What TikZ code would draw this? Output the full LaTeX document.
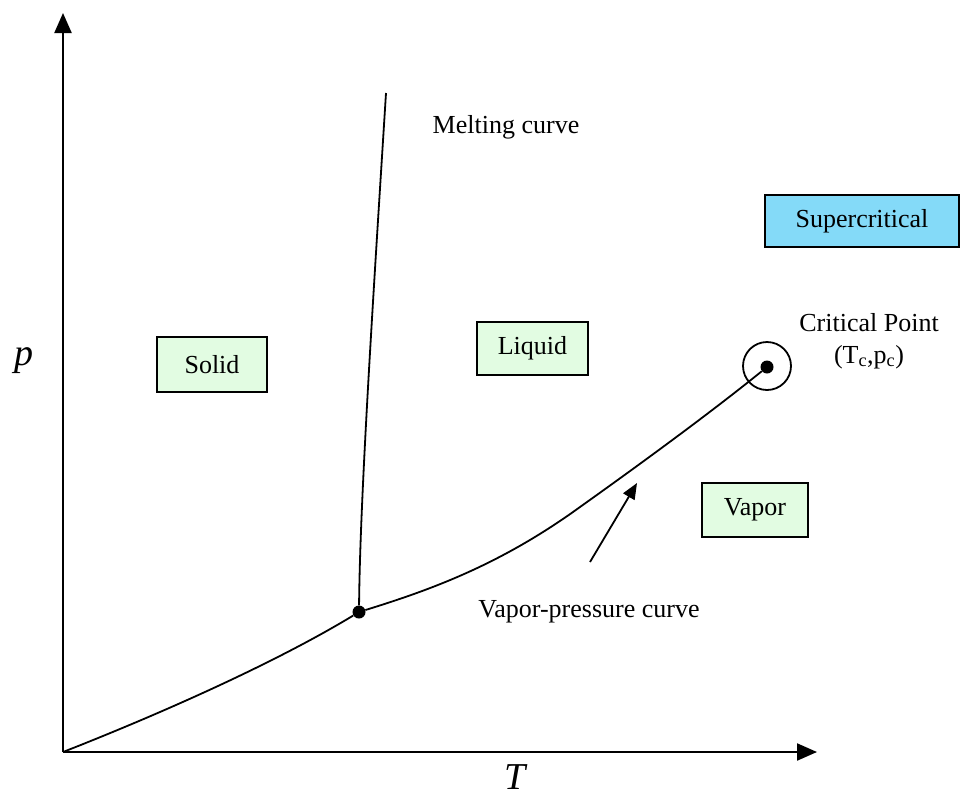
\documentclass[tikz,border=0pt]{standalone}
\usepackage{fontspec}
\setmainfont{Liberation Serif}
\usetikzlibrary{arrows.meta}
\definecolor{phasecolor}{HTML}{E2FCE2}
\definecolor{supercolor}{HTML}{84DAF8}

\begin{document}
\begin{tikzpicture}[x=1pt, y=-1pt,
    phase/.style={draw, line width=2pt, fill=phasecolor, inner sep=0pt,
                  font=\fontsize{26}{30}\selectfont},
    lbl/.style={font=\fontsize{26}{32}\selectfont, align=center},
    axislbl/.style={font=\fontsize{38}{40}\selectfont\itshape},
    axis/.style={line width=2.2pt, -{Triangle[length=20pt,width=17pt]}},
    curve/.style={line width=1.8pt},
    dot/.style={circle, fill, inner sep=0pt, minimum size=13pt}
]
    \useasboundingbox (0,0) rectangle (960,798);

    % axes
    \coordinate (origin) at (63,752);
    \coordinate (ytip) at (63,13);
    \coordinate (xtip) at (817,752);
    \draw[axis] (origin) -- (ytip);
    \draw[axis] (origin) -- (xtip);
    \node[axislbl, anchor=base] (plbl) at (24,365) {p};
    \node[axislbl, anchor=base] (tlbl) at (515,789) {T};

    % phase boundaries
    \node[dot] (triple) at (359,612) {};
    \node[dot] (crit) at (767,367) {};
    \node[circle, draw, line width=1.8pt, minimum size=48pt] (critring) at (767,366) {};
    \coordinate (melttop) at (386,93);
    \draw[curve] (origin) .. controls (170,710) and (280,660) .. (triple);
    \draw[curve] (triple) .. controls (360,500) and (373,300) .. (melttop);
    \draw[curve] (triple) .. controls (430,590) and (500,565) .. (580,507)
                 .. controls (660,450) and (720,405) .. (crit);

    % regions
    \node[phase, minimum width=110pt, minimum height=55pt] (solid) at (212,364.5) {Solid};
    \node[phase, minimum width=111pt, minimum height=53pt] (liquid) at (532.5,348.5) {Liquid};
    \node[phase, minimum width=106pt, minimum height=54pt] (vapor) at (755,510) {Vapor};
    \node[phase, fill=supercolor, minimum width=194pt, minimum height=52pt] (super) at (862,221) {Supercritical};

    % labels
    \node[lbl] (meltlbl) at (506,127) {Melting curve};
    \node[lbl] (critlbl) at (869,341) {Critical Point\\(T\textsubscript{c},p\textsubscript{c})};
    \node[lbl] (vplbl) at (589,612) {Vapor-pressure curve};
    \coordinate (arrtail) at (590,562);
    \coordinate (arrtip) at (637,483);
    \draw[line width=1.8pt, -{Triangle[length=16pt,width=13pt]}] (arrtail) -- (arrtip);
\end{tikzpicture}
\end{document}
